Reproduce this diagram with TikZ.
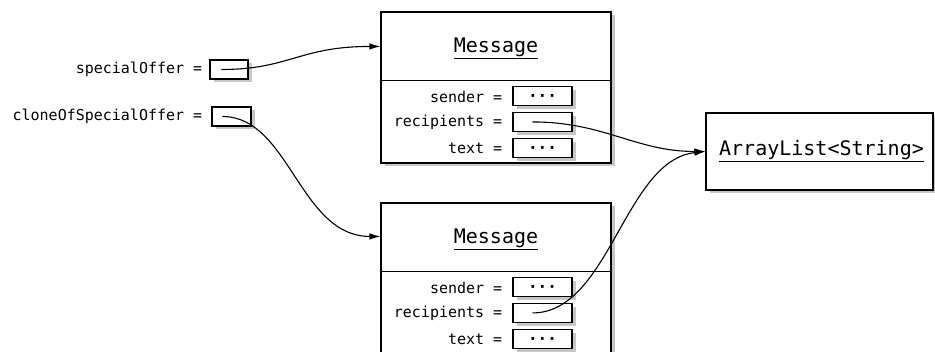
\documentclass[tikz,border=0pt]{standalone}
\usepackage{fontspec}
\setmonofont{DejaVu Sans Mono}
\usetikzlibrary{arrows.meta, positioning, shadows}

\tikzset{
  objbox/.style={draw, line width=1.1pt, fill=white,
    general shadow={fill=black!22, draw=none, shadow xshift=3.5pt, shadow yshift=-3.5pt}},
  cell/.style={objbox, minimum height=19pt, inner sep=0pt},
  field/.style={cell, minimum width=59pt},
  lbl/.style={inner sep=0pt, font=\ttfamily\fontsize{15}{18}\selectfont},
  title/.style={inner sep=0pt, font=\ttfamily\fontsize{20}{24}\selectfont},
  dots/.style={font=\ttfamily\bfseries\fontsize{16}{18}\selectfont, text height=11pt, text depth=0pt},
  ref/.style={-{Latex[length=11pt,width=6.5pt]}, line width=1.1pt}
}

\begin{document}
\begin{tikzpicture}[x=1pt, y=-1pt]
    \useasboundingbox (0,0) rectangle (935,352);
    % variables
    \node[cell, minimum width=38pt] (varA) at (229,69.5) {};
    \node[lbl, left=7pt of varA] (nameA) {specialOffer =};
    \node[cell, minimum width=39pt] (varB) at (231.5,116.5) {};
    \node[lbl, left=9pt of varB] (nameB) {cloneOfSpecialOffer =};
    % first message
    \node[objbox, minimum width=230pt, minimum height=151pt] (msgA) at (496,87.5) {};
    \draw[line width=1.1pt] ([yshift=-69pt]msgA.north west) -- ([yshift=-69pt]msgA.north east);
    \node[title] (titleA) at ([yshift=-37pt]msgA.north) {\underline{Message}};
    \node[field, dots] (sndA) at ([xshift=46.5pt,yshift=-85pt]msgA.north) {···};
    \node[field] (recA) at ([xshift=46.5pt,yshift=-110.5pt]msgA.north) {};
    \node[field, dots] (txtA) at ([xshift=46.5pt,yshift=-136.5pt]msgA.north) {···};
    \node[lbl, left=10pt of sndA] (sndAl) {sender =};
    \node[lbl, left=10pt of recA] (recAl) {recipients =};
    \node[lbl, left=10pt of txtA] (txtAl) {text =};
    % second message
    \node[objbox, minimum width=230pt, minimum height=150pt] (msgB) at (496,278) {};
    \draw[line width=1.1pt] ([yshift=-69pt]msgB.north west) -- ([yshift=-69pt]msgB.north east);
    \node[title] (titleB) at ([yshift=-37pt]msgB.north) {\underline{Message}};
    \node[field, dots] (sndB) at ([xshift=46.5pt,yshift=-85pt]msgB.north) {···};
    \node[field] (recB) at ([xshift=46.5pt,yshift=-110.5pt]msgB.north) {};
    \node[field, dots] (txtB) at ([xshift=46.5pt,yshift=-136.5pt]msgB.north) {···};
    \node[lbl, left=10pt of sndB] (sndBl) {sender =};
    \node[lbl, left=10pt of recB] (recBl) {recipients =};
    \node[lbl, left=10pt of txtB] (txtBl) {text =};
    % shared list
    \node[objbox, minimum width=227pt, minimum height=77pt] (list) at (819.5,151.5) {};
    \node[title] (listT) at ([xshift=2pt]list.center) {\underline{ArrayList<String>}};
    % references
    \coordinate (startA) at ([xshift=12pt]varA.west);
    \coordinate (startB) at ([xshift=11pt]varB.west);
    \coordinate (startRA) at ([xshift=20pt]recA.west);
    \coordinate (startRB) at ([xshift=20pt]recB.west);
    \coordinate (endA) at ([yshift=-35pt]msgA.north west);
    \coordinate (endB) at ([yshift=-34pt]msgB.north west);
    \draw[ref] (startA) .. controls +(68,0) and +(-81,0) .. (endA);
    \draw[ref] (startB) .. controls +(67,0) and +(-81,0) .. (endB);
    \draw[ref] (startRA) .. controls +(72,0) and +(-70,0) .. (list.west);
    \draw[ref] (startRB) .. controls +(77,0) and +(-81,8.5) .. (list.west);
\end{tikzpicture}
\end{document}
